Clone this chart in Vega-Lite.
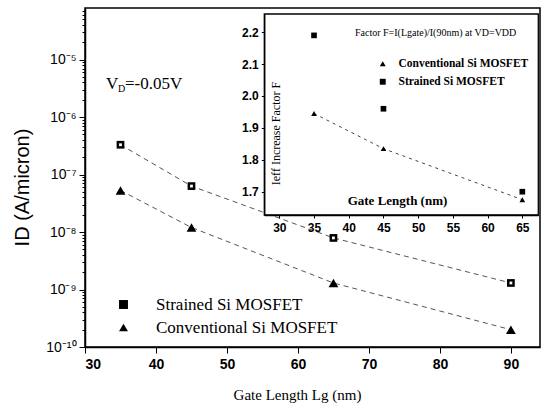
{
 "$schema": "https://vega.github.io/schema/vega-lite/v6.json",
 "width": 455,
 "height": 339,
 "autosize": "none",
 "padding": {"left": 85, "top": 8, "right": 4, "bottom": 64},
 "background": "white",
 "config": {
  "view": {"stroke": "black", "strokeWidth": 1.5},
  "axis": {"grid": false, "domainColor": "black", "domainWidth": 1.5, "tickColor": "black", "labelColor": "black", "titleColor": "black"}
 },
 "datasets": {
  "main": [
   {"L": 35, "I": 3.3e-7, "series": "Strained Si MOSFET"},
   {"L": 45, "I": 6.3e-8, "series": "Strained Si MOSFET"},
   {"L": 65, "I": 7.9e-9, "series": "Strained Si MOSFET"},
   {"L": 90, "I": 1.3e-9, "series": "Strained Si MOSFET"},
   {"L": 35, "I": 5.3e-8, "series": "Conventional Si MOSFET"},
   {"L": 45, "I": 1.2e-8, "series": "Conventional Si MOSFET"},
   {"L": 65, "I": 1.3e-9, "series": "Conventional Si MOSFET"},
   {"L": 90, "I": 2.0e-10, "series": "Conventional Si MOSFET"}
  ],
  "inset": [
   {"L": 35, "F": 2.19, "series": "Strained Si MOSFET"},
   {"L": 45, "F": 1.96, "series": "Strained Si MOSFET"},
   {"L": 65, "F": 1.70, "series": "Strained Si MOSFET"},
   {"L": 35, "F": 1.945, "series": "Conventional Si MOSFET"},
   {"L": 45, "F": 1.835, "series": "Conventional Si MOSFET"},
   {"L": 65, "F": 1.675, "series": "Conventional Si MOSFET"}
  ]
 },
 "layer": [
  {
   "layer": [
    {
     "data": {"name": "main"},
     "mark": {"type": "line", "strokeDash": [5, 4], "strokeWidth": 1, "color": "#555"},
     "encoding": {
      "x": {"field": "L", "type": "quantitative",
       "scale": {"domain": [30, 94.1], "nice": false, "zero": false},
       "axis": {"values": [30, 35, 40, 45, 50, 55, 60, 65, 70, 75, 80, 85, 90],
        "labelExpr": "datum.value % 10 === 0 ? datum.label : ''",
        "tickSize": {"condition": {"test": "datum.value % 10 === 0", "value": 6}, "value": 3},
        "labelPadding": 4, "labelFont": "Liberation Sans", "labelFontWeight": "bold", "labelFontSize": 14,
        "title": "Gate Length Lg (nm)", "titleFont": "Liberation Serif", "titleFontWeight": "normal", "titleFontSize": 15,
        "titleX": 212, "titleY": 47, "titleAlign": "center", "titleBaseline": "middle", "zindex": 1}},
      "y": {"field": "I", "type": "quantitative",
       "scale": {"type": "log", "domain": [1e-10, 7.9e-5], "nice": false},
       "axis": {"values": [1e-10, 2e-10, 3e-10, 4e-10, 5e-10, 6e-10, 7e-10, 8e-10, 9e-10,
         1e-9, 2e-9, 3e-9, 4e-9, 5e-9, 6e-9, 7e-9, 8e-9, 9e-9,
         1e-8, 2e-8, 3e-8, 4e-8, 5e-8, 6e-8, 7e-8, 8e-8, 9e-8,
         1e-7, 2e-7, 3e-7, 4e-7, 5e-7, 6e-7, 7e-7, 8e-7, 9e-7,
         1e-6, 2e-6, 3e-6, 4e-6, 5e-6, 6e-6, 7e-6, 8e-6, 9e-6,
         1e-5, 2e-5, 3e-5, 4e-5, 5e-5, 6e-5, 7e-5],
        "labelExpr": "abs(log(datum.value)/LN10 - round(log(datum.value)/LN10)) < 0.01 ? (round(log(datum.value)/LN10) == -10 ? '10⁻¹⁰' : '10⁻' + ['⁰','¹','²','³','⁴','⁵','⁶','⁷','⁸','⁹'][-round(log(datum.value)/LN10)]) : ''",
        "tickSize": {"condition": {"test": "abs(log(datum.value)/LN10 - round(log(datum.value)/LN10)) < 0.01", "value": 6}, "value": 3},
        "labelPadding": 3, "labelFont": "Liberation Sans", "labelFontSize": 14,
        "title": "ID (A/micron)", "titleFont": "Liberation Sans", "titleFontWeight": "normal", "titleFontSize": 20,
        "titleX": -63, "titleY": 179, "titleAngle": 270, "titleAlign": "center", "titleBaseline": "middle", "zindex": 1}},
      "detail": {"field": "series", "type": "nominal"}
     }
    },
    {
     "data": {"name": "main"},
     "transform": [{"filter": "datum.series == 'Strained Si MOSFET'"}],
     "mark": {"type": "point", "filled": true, "color": "black", "opacity": 1, "size": 60},
     "encoding": {
      "x": {"field": "L", "type": "quantitative"},
      "y": {"field": "I", "type": "quantitative"},
      "shape": {"field": "series", "type": "nominal",
       "scale": {"domain": ["Strained Si MOSFET", "Conventional Si MOSFET"], "range": ["square", "triangle-up"]},
       "legend": {"orient": "none", "legendX": 30, "legendY": 288, "title": null, "padding": 0,
        "labelFont": "Liberation Serif", "labelFontSize": 17, "labelColor": "black", "labelOffset": 24, "labelLimit": 0,
        "symbolFillColor": "black", "symbolStrokeColor": "black", "symbolSize": 80, "rowPadding": 5}}
     }
    },
    {
     "data": {"name": "main"},
     "transform": [{"filter": "datum.series == 'Strained Si MOSFET'"}],
     "mark": {"type": "point", "filled": true, "color": "white", "opacity": 1, "size": 8, "shape": "square"},
     "encoding": {
      "x": {"field": "L", "type": "quantitative"},
      "y": {"field": "I", "type": "quantitative"}
     }
    },
    {
     "data": {"name": "main"},
     "transform": [{"filter": "datum.series == 'Conventional Si MOSFET'"}],
     "mark": {"type": "point", "filled": true, "color": "black", "opacity": 1, "size": 95},
     "encoding": {
      "x": {"field": "L", "type": "quantitative"},
      "y": {"field": "I", "type": "quantitative"},
      "shape": {"field": "series", "type": "nominal"}
     }
    },
    {
     "data": {"values": [{}]},
     "mark": {"type": "text", "font": "Liberation Serif", "fontSize": 17, "align": "left", "baseline": "middle", "color": "black"},
     "encoding": {"x": {"datum": 32.96, "type": "quantitative"}, "y": {"datum": 3.8e-6, "type": "quantitative"}, "text": {"value": "V"}}
    },
    {
     "data": {"values": [{}]},
     "mark": {"type": "text", "font": "Liberation Serif", "fontSize": 10, "align": "left", "baseline": "middle", "color": "black", "dx": 12, "dy": 5},
     "encoding": {"x": {"datum": 32.96, "type": "quantitative"}, "y": {"datum": 3.8e-6, "type": "quantitative"}, "text": {"value": "D"}}
    },
    {
     "data": {"values": [{}]},
     "mark": {"type": "text", "font": "Liberation Serif", "fontSize": 17, "align": "left", "baseline": "middle", "color": "black", "dx": 19},
     "encoding": {"x": {"datum": 32.96, "type": "quantitative"}, "y": {"datum": 3.8e-6, "type": "quantitative"}, "text": {"value": "=-0.05V"}}
    }
   ]
  },
  {
   "layer": [
    {
     "data": {"values": [{}]},
     "mark": {"type": "rect", "fill": "white", "stroke": "black", "strokeWidth": 1.3},
     "encoding": {
      "x": {"datum": 27.84, "type": "quantitative",
       "scale": {"domain": [27.84, 67.3], "range": [179.3, 453.3], "nice": false, "zero": false},
       "axis": {"orient": "bottom", "offset": -132, "values": [30, 35, 40, 45, 50, 55, 60, 65],
        "tickSize": 3, "labelPadding": 4, "labelFont": "Liberation Sans", "labelFontWeight": "bold", "labelFontSize": 12,
        "domainWidth": 1.3,
        "title": "Gate Length (nm)", "titleFont": "Liberation Serif", "titleFontWeight": "bold", "titleFontSize": 13,
        "titleX": 312, "titleY": -15, "titleAlign": "center", "titleBaseline": "middle", "zindex": 1}},
      "x2": {"datum": 67.3},
      "y": {"datum": 1.627, "type": "quantitative",
       "scale": {"domain": [1.627, 2.257], "range": [207, 6], "nice": false, "zero": false},
       "axis": {"orient": "left", "offset": -179.3, "values": [1.7, 1.8, 1.9, 2.0, 2.1, 2.2], "format": ".1f",
        "tickSize": 3, "labelPadding": 3, "labelFont": "Liberation Sans", "labelFontWeight": "bold", "labelFontSize": 12,
        "domainWidth": 1.3,
        "title": "Ieff Increase Factor F", "titleFont": "Liberation Serif", "titleFontWeight": "normal", "titleFontSize": 12,
        "titleX": 10.7, "titleY": 125, "titleAngle": 270, "titleAlign": "center", "titleBaseline": "middle", "zindex": 1}},
      "y2": {"datum": 2.257}
     }
    },
    {
     "data": {"name": "inset"},
     "transform": [{"filter": "datum.series == 'Conventional Si MOSFET'"}],
     "mark": {"type": "line", "strokeDash": [3, 4], "strokeWidth": 1, "color": "#444"},
     "encoding": {
      "x": {"field": "L", "type": "quantitative"},
      "y": {"field": "F", "type": "quantitative"}
     }
    },
    {
     "data": {"name": "inset"},
     "mark": {"type": "point", "filled": true, "color": "black", "opacity": 1, "size": 32},
     "encoding": {
      "x": {"field": "L", "type": "quantitative"},
      "y": {"field": "F", "type": "quantitative"},
      "shape": {"field": "series", "type": "nominal",
       "scale": {"domain": ["Conventional Si MOSFET", "Strained Si MOSFET"], "range": ["triangle-up", "square"]},
       "legend": {"orient": "none", "legendX": 292, "legendY": 50, "title": null, "padding": 0,
        "labelFont": "Liberation Serif", "labelFontWeight": "bold", "labelFontSize": 11.5, "labelColor": "black", "labelOffset": 10, "labelLimit": 0,
        "symbolFillColor": "black", "symbolStrokeColor": "black", "symbolSize": 35, "rowPadding": 5}}
     }
    },
    {
     "data": {"values": [{}]},
     "mark": {"type": "text", "font": "Liberation Serif", "fontSize": 10, "align": "left", "baseline": "middle", "color": "black"},
     "encoding": {"x": {"datum": 40.9, "type": "quantitative"}, "y": {"datum": 2.198, "type": "quantitative"}, "text": {"value": "Factor F=I(Lgate)/I(90nm) at VD=VDD"}}
    }
   ]
  }
 ],
 "resolve": {"scale": {"x": "independent", "y": "independent", "shape": "independent"}, "legend": {"shape": "independent"}}
}
